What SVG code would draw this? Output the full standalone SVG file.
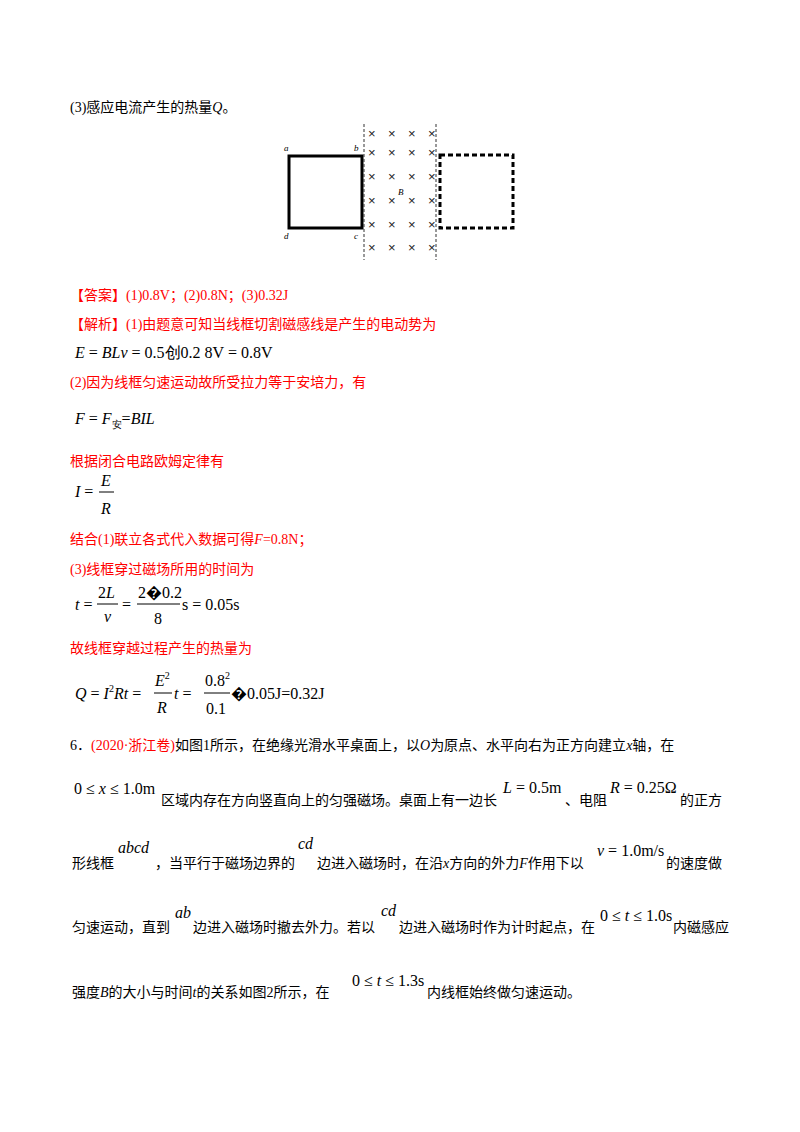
<svg xmlns="http://www.w3.org/2000/svg" width="800" height="1132" viewBox="0 0 800 1132">
<style>
text{font-family:"Liberation Serif","Noto Sans CJK SC",serif;font-size:14px;fill:#000}
.r{fill:#ff0000}
.m{font-family:"Liberation Serif",serif;font-size:16px}
.i{font-style:italic}
.s{font-size:9px;font-style:italic}
.x{font-family:"Liberation Sans",sans-serif;font-size:13px;fill:#222}
.dl{stroke:#333;stroke-width:1;stroke-dasharray:3,2}
</style>
<rect width="800" height="1132" fill="#fff"/>
<text x="70" y="112">(3)感应电流产生的热量<tspan class="i">Q</tspan>。</text>
<g id="figure">
<rect x="289" y="156" width="73" height="72" fill="none" stroke="#000" stroke-width="3"/>
<rect x="440" y="155" width="73" height="73" fill="none" stroke="#000" stroke-width="3" stroke-dasharray="5,3"/>
<line class="dl" x1="364" y1="124" x2="364" y2="260"/>
<line class="dl" x1="436" y1="124" x2="436" y2="260"/>
<text class="s" x="284" y="151">a</text><text class="s" x="354" y="151">b</text>
<text class="s" x="284" y="239">d</text><text class="s" x="354" y="239">c</text>
<text class="s" x="398" y="195">B</text>
<text class="x" x="368" y="138">×</text><text class="x" x="388" y="138">×</text><text class="x" x="408" y="138">×</text><text class="x" x="428" y="138">×</text>
<text class="x" x="368" y="157">×</text><text class="x" x="388" y="157">×</text><text class="x" x="408" y="157">×</text><text class="x" x="428" y="157">×</text>
<text class="x" x="368" y="181">×</text><text class="x" x="388" y="181">×</text><text class="x" x="408" y="181">×</text><text class="x" x="428" y="181">×</text>
<text class="x" x="368" y="205">×</text><text class="x" x="388" y="205">×</text><text class="x" x="408" y="205">×</text><text class="x" x="428" y="205">×</text>
<text class="x" x="368" y="229">×</text><text class="x" x="388" y="229">×</text><text class="x" x="408" y="229">×</text><text class="x" x="428" y="229">×</text>
<text class="x" x="368" y="252">×</text><text class="x" x="388" y="252">×</text><text class="x" x="408" y="252">×</text><text class="x" x="428" y="252">×</text>
</g>
<text class="r" x="70" y="300">【答案】(1)0.8V；(2)0.8N；(3)0.32J</text>
<text class="r" x="70" y="329">【解析】(1)由题意可知当线框切割磁感线是产生的电动势为</text>
<text class="m" x="75" y="358"><tspan class="i">E</tspan> = <tspan class="i">BLv</tspan> = 0.5创0.2   8V = 0.8V</text>
<text class="r" x="70" y="387">(2)因为线框匀速运动故所受拉力等于安培力，有</text>
<text class="m" x="75" y="424"><tspan class="i">F</tspan> = <tspan class="i">F</tspan><tspan font-size="10" dy="4">安</tspan><tspan dy="-4">=</tspan><tspan class="i">BIL</tspan></text>
<text class="r" x="70" y="466">根据闭合电路欧姆定律有</text>
<text class="m" x="75" y="497"><tspan class="i">I</tspan> =</text>
<text class="m i" x="101" y="486">E</text>
<line x1="99" y1="492" x2="114" y2="492" stroke="#000"/>
<text class="m i" x="101" y="514">R</text>
<text class="r" x="70" y="544">结合(1)联立各式代入数据可得<tspan class="i">F</tspan>=0.8N；</text>
<text class="r" x="70" y="574">(3)线框穿过磁场所用的时间为</text>
<text class="m" x="75" y="610"><tspan class="i">t</tspan> =</text>
<text class="m" x="98" y="598">2<tspan class="i">L</tspan></text>
<line x1="97" y1="604" x2="118" y2="604" stroke="#000"/>
<text class="m i" x="104" y="622">v</text>
<text class="m" x="122" y="610">=</text>
<text class="m" x="138" y="598">2�0.2</text>
<line x1="137" y1="604" x2="180" y2="604" stroke="#000"/>
<text class="m" x="154" y="624">8</text>
<text class="m" x="182" y="610">s = 0.05s</text>
<text class="r" x="70" y="653">故线框穿越过程产生的热量为</text>
<text class="m" x="75" y="699"><tspan class="i">Q</tspan> = <tspan class="i">I</tspan><tspan font-size="10" dy="-7">2</tspan><tspan dy="7" class="i">Rt</tspan> =</text>
<text class="m" x="155" y="686"><tspan class="i">E</tspan><tspan font-size="10" dy="-7">2</tspan></text>
<line x1="154" y1="693" x2="172" y2="693" stroke="#000"/>
<text class="m i" x="157" y="713">R</text>
<text class="m" x="174" y="699"><tspan class="i">t</tspan> =</text>
<text class="m" x="205" y="686">0.8<tspan font-size="10" dy="-7">2</tspan></text>
<line x1="204" y1="693" x2="230" y2="693" stroke="#000"/>
<text class="m" x="206" y="714">0.1</text>
<text class="m" x="231" y="699">�0.05J=0.32J</text>
<text x="70" y="750">6．<tspan class="r">(2020·浙江卷)</tspan>如图1所示，在绝缘光滑水平桌面上，以<tspan class="i">O</tspan>为原点、水平向右为正方向建立<tspan class="i">x</tspan>轴，在</text>
<text class="m" x="74" y="794">0 ≤ <tspan class="i">x</tspan> ≤ 1.0m</text>
<text x="161" y="805">区域内存在方向竖直向上的匀强磁场。桌面上有一边长</text>
<text class="m" x="503" y="793"><tspan class="i">L</tspan> = 0.5m</text>
<text x="565" y="805">、电阻</text>
<text class="m" x="610" y="793"><tspan class="i">R</tspan> = 0.25Ω</text>
<text x="680" y="805">的正方</text>
<text x="72" y="868">形线框</text>
<text class="m i" x="118" y="853">abcd</text>
<text x="155" y="868">，当平行于磁场边界的</text>
<text class="m i" x="298" y="849">cd</text>
<text x="317" y="868">边进入磁场时，在沿<tspan class="i">x</tspan>方向的外力<tspan class="i">F</tspan>作用下以</text>
<text class="m" x="597" y="856"><tspan class="i">v</tspan> = 1.0m/s</text>
<text x="666" y="868">的速度做</text>
<text x="72" y="932">匀速运动，直到</text>
<text class="m i" x="175" y="918">ab</text>
<text x="193" y="932">边进入磁场时撤去外力。若以</text>
<text class="m i" x="381" y="916">cd</text>
<text x="399" y="932">边进入磁场时作为计时起点，在</text>
<text class="m" x="600" y="921">0 ≤ <tspan class="i">t</tspan> ≤ 1.0s</text>
<text x="673" y="932">内磁感应</text>
<text x="72" y="997">强度<tspan class="i">B</tspan>的大小与时间<tspan class="i">t</tspan>的关系如图2所示，在</text>
<text class="m" x="352" y="986">0 ≤ <tspan class="i">t</tspan> ≤ 1.3s</text>
<text x="427" y="997">内线框始终做匀速运动。</text>
</svg>
